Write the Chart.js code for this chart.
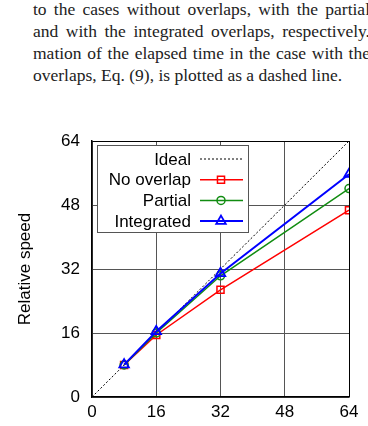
<!DOCTYPE html>
<html>
<head>
<meta charset="utf-8">
<script src="https://cdn.jsdelivr.net/npm/chart.js@4/dist/chart.umd.min.js"></script>
<style>
  html, body { margin: 0; padding: 0; background: #fff; width: 368px; height: 426px; overflow: hidden; position: relative; }
  .txt { position: absolute; left: 33px; width: 337px; font-family: 'Liberation Serif', serif; font-size: 17.5px; line-height: 22px; color: #222; white-space: nowrap; }
  .just { text-align: justify; text-align-last: justify; white-space: normal; }
  #box { position: absolute; left: 0; top: 110px; }
</style>
</head>
<body>
<div class="txt just" style="top:-2px">to the cases without overlaps, with the partial</div>
<div class="txt just" style="top:20px">and with the integrated overlaps, respectively.</div>
<div class="txt just" style="top:42px">mation of the elapsed time in the case with the</div>
<div class="txt" style="top:64px">overlaps, Eq. (9), is plotted as a dashed line.</div>
<div id="box"><canvas id="myChart" width="368" height="316"></canvas></div>
<script>
// data
const procs = [8, 16, 32, 64];
const idealX = [0, 64];
const idealY = [0, 64];
const noOverlap = [8, 15.5, 26.8, 46.7];
const partial = [8, 16, 30.3, 52.1];
const integrated = [8.1, 16.4, 30.9, 55.7];
const ticks = [0, 16, 32, 48, 64];
const names = ['Ideal', 'No overlap', 'Partial', 'Integrated'];

function pts(xs, ys) {
  return xs.map(function(x, i) { return {x: x, y: ys[i]}; });
}

Chart.defaults.font.family = "'Liberation Sans', Arial, sans-serif";
Chart.defaults.color = '#000';

// legend box like gnuplot's, drawn from the datasets
const boxLegend = {
  id: 'boxLegend',
  afterDraw(chart) {
    const ctx = chart.ctx;
    const a = chart.chartArea;
    const x0 = a.left + 5, y0 = a.top + 4, w = 151, h = 87;
    ctx.save();
    ctx.fillStyle = '#fff';
    ctx.fillRect(x0, y0, w, h);
    ctx.strokeStyle = '#555';
    ctx.lineWidth = 1;
    ctx.strokeRect(x0 + 0.5, y0 + 0.5, w, h);
    ctx.font = "17px 'Liberation Sans', Arial, sans-serif";
    ctx.textAlign = 'right';
    ctx.textBaseline = 'middle';
    chart.data.datasets.forEach(function(ds, i) {
      const y = y0 + 14 + i * 20.7;
      ctx.fillStyle = '#000';
      ctx.fillText(ds.label, x0 + 94, y + 1);
      ctx.strokeStyle = ds.borderColor;
      ctx.lineWidth = ds.borderWidth;
      ctx.setLineDash(ds.borderDash || []);
      ctx.beginPath();
      ctx.moveTo(x0 + 103, y);
      ctx.lineTo(x0 + 146, y);
      ctx.stroke();
      ctx.setLineDash([]);
      if (ds.pointRadius > 0) {
        ctx.fillStyle = 'rgba(0,0,0,0)';
        ctx.lineWidth = ds.pointBorderWidth;
        Chart.helpers.drawPoint(ctx, {
          pointStyle: ds.pointStyle,
          radius: ds.pointRadius,
          borderWidth: ds.pointBorderWidth,
          rotation: 0
        }, x0 + 124, y);
      }
    });
    ctx.restore();
  }
};

const data = {
  datasets: [
    {
      label: names[0],
      data: pts(idealX, idealY),
      borderColor: '#000',
      borderWidth: 1,
      borderDash: [2, 2],
      pointRadius: 0,
      order: 4
    },
    {
      label: names[1],
      data: pts(procs, noOverlap),
      borderColor: '#f00',
      borderWidth: 1.5,
      pointStyle: 'rect',
      pointRadius: 5,
      pointBorderWidth: 1.5,
      pointBackgroundColor: 'rgba(0,0,0,0)',
      order: 3
    },
    {
      label: names[2],
      data: pts(procs, partial),
      borderColor: '#118c11',
      borderWidth: 1.5,
      pointStyle: 'circle',
      pointRadius: 4,
      pointBorderWidth: 1.5,
      pointBackgroundColor: 'rgba(0,0,0,0)',
      order: 2
    },
    {
      label: names[3],
      data: pts(procs, integrated),
      borderColor: '#00f',
      borderWidth: 2,
      pointStyle: 'triangle',
      pointRadius: 5.5,
      pointBorderWidth: 1.8,
      pointBackgroundColor: 'rgba(0,0,0,0)',
      order: 1
    }
  ]
};

function gridColor(c) {
  return (c.tick && c.tick.value === 64) ? '#000' : '#555';
}

const config = {
  type: 'scatter',
  data,
  options: {
    responsive: false,
    animation: false,
    showLine: true,
    layout: { padding: { top: 31, right: 19, left: 0, bottom: 0 } },
    plugins: { legend: { display: false }, tooltip: { enabled: false } },
    scales: {
      x: {
        type: 'linear',
        min: 0,
        max: 64,
        afterBuildTicks: function(s) { s.ticks = ticks.map(function(v) { return {value: v}; }); },
        afterFit: function(s) { s.height = 29; },
        ticks: { font: { size: 17 }, padding: 5, maxRotation: 0 },
        grid: { color: gridColor, lineWidth: 1, drawTicks: false },
        border: { color: '#000', width: 1.5 }
      },
      y: {
        type: 'linear',
        min: 0,
        max: 64,
        afterBuildTicks: function(s) { s.ticks = ticks.map(function(v) { return {value: v}; }); },
        afterFit: function(s) { s.width = 92; },
        ticks: { font: { size: 17 }, padding: 12 },
        grid: { color: gridColor, lineWidth: 1, drawTicks: false },
        border: { color: '#000', width: 1.5 },
        title: { display: true, text: 'Relative speed', font: { size: 17 }, padding: { top: 15, bottom: 0 } }
      }
    }
  },
  plugins: [boxLegend]
};

const myChart = new Chart(document.getElementById('myChart'), config);
</script>
</body>
</html>
